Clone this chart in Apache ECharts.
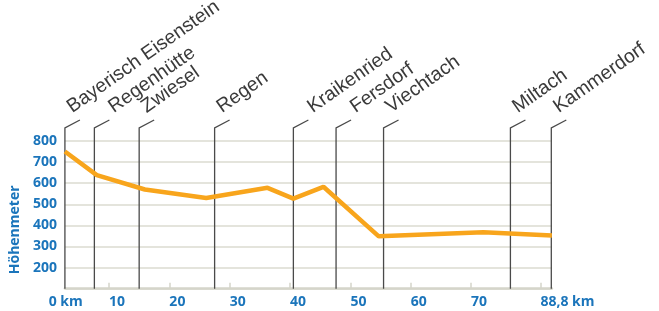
<!DOCTYPE html>
<html>
<head>
<meta charset="utf-8">
<script src="https://cdn.jsdelivr.net/npm/echarts@6/dist/echarts.min.js"></script>
<style>
  html, body { margin: 0; padding: 0; background: #fff; }
  #chart { width: 659px; height: 311px; }
</style>
</head>
<body>
<div id="chart"></div>
<script>
// profile points (km along the drawn axis, height in m)
const profileKm = [2.4, 7.7, 15.7, 25.9, 36.1, 40.4, 45.4, 54.6, 72.0, 83.4]
const profileHeight = [750, 638, 570, 530, 578, 527, 583, 348, 368, 352]

// places with their marker position
const townNames = ['Bayerisch Eisenstein', 'Regenhütte', 'Zwiesel', 'Regen', 'Kraikenried',
    'Fersdorf', 'Viechtach', 'Miltach', 'Kammerdorf']
const townKm = [2.4, 7.3, 14.75, 27.3, 40.4, 47.5, 55.4, 76.5, 83.3]

// x tick labels
const tickKm = [0, 10, 20, 30, 40, 50, 60, 70, 81.5]
const tickLabels = ['0 km', '10', '20', '30', '40', '50', '60', '70', '88,8 km']

// these names start at the end of the slanted leader instead of at the post
const labelAtLeaderEnd = ['Regenhütte', 'Kraikenried', 'Fersdorf']

const blue = '#1b75bb'
const gridColor = '#dbdbd0'

const myChart = echarts.init(document.getElementById('chart'))

const labelMap = {}
tickKm.forEach((v, i) => { labelMap[v] = tickLabels[i] })

const option = {
    animation: false,
    grid: [
        { left: 63.2, right: 107.1, top: 141, bottom: 22.3 },
        { left: 48.7, right: 107.1, top: 141, bottom: 22.3 }
    ],
    xAxis: [
        {
            type: 'value',
            gridIndex: 0,
            min: 2.4,
            max: 83.4,
            axisLine: { show: true, lineStyle: { color: '#d5d5ca', width: 2.5 } },
            axisTick: { show: false },
            axisLabel: { show: false },
            splitLine: { show: false }
        },
        {
            type: 'value',
            gridIndex: 1,
            min: 0,
            max: 83.4,
            axisLine: { show: false },
            axisTick: {
                show: true,
                inside: true,
                length: 6,
                customValues: tickKm.slice(1),
                lineStyle: { color: '#d5d5ca', width: 1.5 }
            },
            axisLabel: {
                customValues: tickKm,
                align: 'left',
                margin: 6,
                color: blue,
                fontFamily: 'Open Sans',
                fontWeight: 'bold',
                fontSize: 14,
                formatter: v => labelMap[v]
            },
            splitLine: { show: false }
        }
    ],
    yAxis: [
        {
            type: 'value',
            gridIndex: 0,
            min: 100,
            max: 800,
            interval: 100,
            name: 'Höhenmeter',
            nameLocation: 'middle',
            nameGap: 29,
            nameTextStyle: {
                color: blue,
                fontFamily: 'Open Sans',
                fontWeight: 'bold',
                fontSize: 14,
                padding: [0, 30, 0, 0]
            },
            axisLine: { show: false },
            axisTick: { show: false },
            axisLabel: {
                showMinLabel: false,
                margin: 8,
                color: blue,
                fontFamily: 'Open Sans',
                fontWeight: 'bold',
                fontSize: 14
            },
            splitLine: { lineStyle: { color: gridColor, width: 1.5 } }
        },
        { type: 'value', gridIndex: 1, min: 0, max: 1, show: false }
    ],
    series: [
        {
            type: 'custom',
            xAxisIndex: 0,
            yAxisIndex: 0,
            clip: false,
            z: 3,
            data: townKm.map((v, i) => [v, townNames[i]]),
            renderItem: (params, api) => {
                const x = api.value(0)
                const name = townNames[params.dataIndex]
                const bottom = api.coord([x, 100])
                const top = api.coord([x, 800])[1] - 13
                const px = bottom[0]
                const shift = labelAtLeaderEnd.includes(name) ? 22 : 10
                return {
                    type: 'group',
                    children: [
                        {
                            type: 'polyline',
                            shape: { points: [[px, bottom[1]], [px, top], [px + 15, top - 8]] },
                            style: { stroke: '#4a4a4a', lineWidth: 1.3, fill: null }
                        },
                        {
                            type: 'text',
                            x: px + shift,
                            y: top - 11,
                            rotation: 35 * Math.PI / 180,
                            style: {
                                text: name,
                                fill: '#3a3a3a',
                                fontFamily: 'Liberation Sans',
                                fontSize: 19.5,
                                align: 'left',
                                verticalAlign: 'bottom'
                            }
                        }
                    ]
                }
            }
        },
        {
            type: 'line',
            xAxisIndex: 0,
            yAxisIndex: 0,
            z: 4,
            data: profileKm.map((v, i) => [v, profileHeight[i]]),
            showSymbol: false,
            lineStyle: { color: '#f8a51c', width: 4.5 }
        }
    ]
}

myChart.setOption(option)
</script>
</body>
</html>
